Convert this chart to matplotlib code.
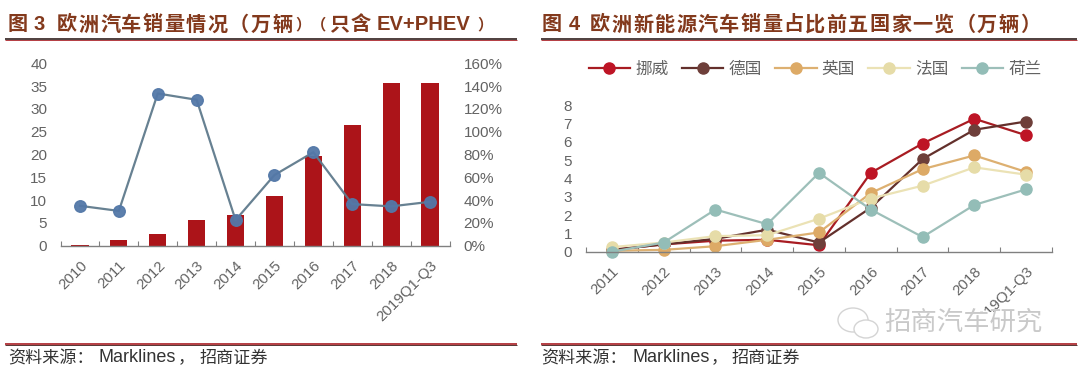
import matplotlib
matplotlib.use('Agg')
import matplotlib.pyplot as plt
from matplotlib.patches import Ellipse, Rectangle

plt.rcParams['font.family'] = ['Liberation Sans', 'Noto Sans CJK SC', 'DejaVu Sans']

W, H = 1080, 369

# left chart data
years_left = ['2010', '2011', '2012', '2013', '2014', '2015', '2016', '2017', '2018', '2019Q1-Q3']
sales = [0.2, 1.3, 2.6, 5.6, 6.8, 10.8, 19.7, 26.5, 35.7, 35.7]
growth = [35, 30.5, 133.5, 128, 22.5, 62, 82, 36.5, 34.5, 38.5]

# right chart data
years_right = ['2011', '2012', '2013', '2014', '2015', '2016', '2017', '2018', '2019Q1-Q3']
norway = [0.1, 0.4, 0.6, 0.65, 0.35, 4.3, 5.9, 7.25, 6.35]
germany = [0.1, 0.4, 0.7, 1.2, 0.5, 2.4, 5.05, 6.65, 7.1]
uk = [0.05, 0.1, 0.3, 0.65, 1.05, 3.2, 4.5, 5.25, 4.35]
france = [0.25, 0.5, 0.85, 0.9, 1.8, 2.9, 3.6, 4.6, 4.2]
netherlands = [0, 0.5, 2.3, 1.5, 4.3, 2.3, 0.8, 2.55, 3.4]

grey = '#636363'
title_col = '#83391C'


def make_axes(fig, left, right, top, bottom):
    return fig.add_axes([left / W, 1 - bottom / H, (right - left) / W, (bottom - top) / H])


def style_x(ax, labels):
    n = len(labels)
    ax.set_xlim(-0.5, n - 0.5)
    ax.set_xticks([i - 0.5 for i in range(n + 1)])
    ax.set_xticklabels([])
    ax.set_xticks(range(n), minor=True)
    ax.set_xticklabels(labels, minor=True, rotation=45, ha='right', va='top',
                       rotation_mode='anchor', fontsize=10.8, color=grey)
    ax.tick_params(axis='x', which='major', direction='in', length=3.5, color='#808080', width=0.8)
    ax.tick_params(axis='x', which='minor', length=0, pad=9)
    for s in ['top', 'left', 'right']:
        ax.spines[s].set_visible(False)
    ax.spines['bottom'].set_color('#808080')
    ax.spines['bottom'].set_linewidth(1)


fig = plt.figure(figsize=(W / 100, H / 100), dpi=100, facecolor='white')

# left chart
ax1 = make_axes(fig, 60.5, 449.5, 63.3, 245.7)
ax1.bar(range(len(sales)), sales, width=0.44, color='#AC1419', zorder=2)
ax1.set_ylim(0, 40)
ax1.set_yticks(range(0, 41, 5))
ax1.tick_params(axis='y', length=0, pad=9.5, labelsize=11, labelcolor=grey)
style_x(ax1, years_left)

ax1b = ax1.twinx()
ax1b.plot(range(len(growth)), growth, color='#5F7A8C', lw=1.6, marker='o', ms=8.3,
          mfc='#5378A8', mec='#5378A8', alpha=0.95, clip_on=False)
ax1b.set_ylim(0, 160)
ax1b.set_yticks(range(0, 161, 20))
ax1b.set_yticklabels([f'{v}%' for v in range(0, 161, 20)])
ax1b.tick_params(axis='y', length=0, pad=10, labelsize=11, labelcolor=grey)
for s in ax1b.spines.values():
    s.set_visible(False)

# right chart
ax2 = make_axes(fig, 586, 1052, 105, 251.7)
series = [('挪威', norway, '#A81C22', '#BE1425'),
          ('德国', germany, '#63302C', '#6E3F3A'),
          ('英国', uk, '#DDB071', '#DDAA66'),
          ('法国', france, '#EBE2B5', '#E6DCA8'),
          ('荷兰', netherlands, '#9DBFB9', '#93BDB7')]
for name, vals, lc, mc in series:
    ax2.plot(range(len(vals)), vals, color=lc, lw=1.6, marker='o', ms=8,
             mfc=mc, mec=mc, label=name, clip_on=False)
ax2.set_ylim(0, 8)
ax2.set_yticks(range(0, 9))
ax2.tick_params(axis='y', length=0, pad=10, labelsize=11, labelcolor=grey)
style_x(ax2, years_right)
ax2.legend(loc='center', bbox_to_anchor=((815 - 586) / 466, (251.7 - 69.5) / 146.7), ncol=5,
           frameon=False, prop={'family': 'Noto Sans CJK SC', 'size': 12}, handlelength=2.5,
           handletextpad=0.3, columnspacing=0.8, labelcolor=grey, borderpad=0)

# overlay in pixel coordinates for titles, rules, source and watermark
ov = fig.add_axes([0, 0, 1, 1], zorder=10)
ov.set_xlim(0, W)
ov.set_ylim(H, 0)
ov.axis('off')


def spaced(x, y, s, step=21.5, size=14.5):
    for i, ch in enumerate(s):
        ov.text(x + i * step, y, ch, fontsize=size, fontweight='bold', color=title_col,
                ha='left', va='center')


def source(x, x2, x3, x4):
    ov.text(x, 358, '资料来源：', fontsize=12.3, color='#333333', ha='left', va='center')
    ov.text(x2, 358, 'Marklines', fontsize=13, color='#333333', ha='left', va='center')
    ov.text(x3, 358, '，', fontsize=12.3, color='#333333', ha='left', va='center')
    ov.text(x4, 358, '招商证券', fontsize=12.3, color='#333333', ha='left', va='center')


for x0, x1 in [(5, 517), (540.5, 1077)]:
    ov.plot([x0, x1], [39.3, 39.3], color='#1E0C0A', lw=1.1, solid_capstyle='butt')
    ov.plot([x0, x1], [40.4, 40.4], color='#A81C22', lw=0.6, solid_capstyle='butt')
    ov.plot([x0, x1], [344.2, 344.2], color='#A81C22', lw=1.2, solid_capstyle='butt')
    ov.plot([x0, x1], [345.4, 345.4], color='#3A1512', lw=0.6, solid_capstyle='butt')

spaced(8, 25, '图')
ov.text(34, 25, '3', fontsize=14.5, fontweight='bold', color=title_col, ha='left', va='center')
spaced(57, 25, '欧洲汽车销量情况（万辆')
spaced(295, 25, '）', size=11)
spaced(310.5, 25, '（', size=11)
spaced(329, 25, '只含')
ov.text(377, 25, 'EV+PHEV', fontsize=14.5, fontweight='bold', color=title_col, ha='left', va='center')
spaced(477, 25, '）', size=11)

spaced(542, 25, '图')
ov.text(568.5, 25, '4', fontsize=14.5, fontweight='bold', color=title_col, ha='left', va='center')
spaced(590, 25, '欧洲新能源汽车销量占比前五国家一览（万辆）')

source(8, 99, 178, 200)
source(541, 633, 711, 732)

# watermark sits on a white patch that hides part of the last label
ov.add_patch(Rectangle((830, 312), 225, 30, fc='white', ec='none'))
ov.text(884, 322, '招商汽车研究', fontsize=19, color='#C9C9C9', ha='left', va='center')
ov.add_patch(Ellipse((853, 320), 30, 24, fc='none', ec='#D4D4D4', lw=1))
ov.add_patch(Ellipse((866, 329), 24, 18, fc='white', ec='#D4D4D4', lw=1))

fig.savefig('out.png', dpi=100, facecolor='white')
